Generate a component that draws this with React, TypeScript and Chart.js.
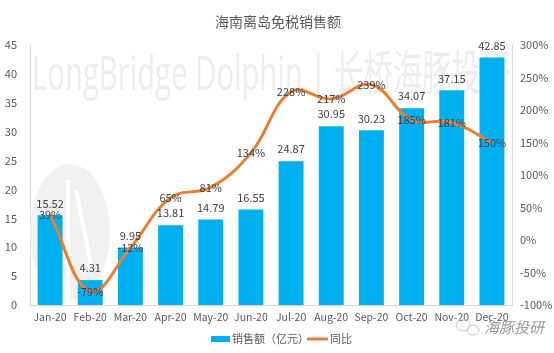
import React, { useEffect, useRef } from "react";
import { Chart, registerables } from "chart.js";

Chart.register(...registerables);

const categories = ["Jan-20", "Feb-20", "Mar-20", "Apr-20", "May-20", "Jun-20", "Jul-20", "Aug-20", "Sep-20", "Oct-20", "Nov-20", "Dec-20"];
const salesValues = [15.52, 4.31, 9.95, 13.81, 14.79, 16.55, 24.87, 30.95, 30.23, 34.07, 37.15, 42.85];
const yoyValues = [39, -79, -12, 65, 81, 134, 228, 217, 239, 185, 181, 150];
const leftTicks = { min: 0, max: 45, step: 5 };
const rightTicks = { min: -100, max: 300, step: 50 };
const titleText = "海南离岛免税销售额";
const salesLabel = "销售额（亿元）";
const yoyLabel = "同比";
const watermarkText = "LongBridge Dolphin | 长桥海豚投研";
const brandText = "海豚投研";

const FONT = "'Noto Sans CJK SC', 'Noto Sans', sans-serif";
const BAR_COLOR = "#00B0F0";
const LINE_COLOR = "#ED7D31";
const TEXT_COLOR = "#595959";
const LABEL_COLOR = "#404040";

const decorPlugin = {
  id: "decor",
  beforeDatasetsDraw(chart: any) {
    const ctx = chart.ctx;
    const area = chart.chartArea;
    ctx.save();
    // faint logo ellipse
    ctx.fillStyle = "#f1f1f1";
    ctx.beginPath();
    ctx.ellipse(area.left + 40, 232, 40, 68, 0, 0, Math.PI * 2);
    ctx.fill();
    ctx.strokeStyle = "#ffffff";
    ctx.lineWidth = 4;
    ctx.beginPath();
    ctx.moveTo(area.left + 38, 180);
    ctx.lineTo(area.left + 38, 300);
    ctx.moveTo(area.left + 46, 190);
    ctx.lineTo(area.left + 62, 270);
    ctx.stroke();
    // watermark text
    ctx.fillStyle = "#ededed";
    ctx.font = `48px 'Open Sans', 'Noto Sans CJK SC', sans-serif`;
    ctx.textBaseline = "alphabetic";
    ctx.textAlign = "left";
    const w = ctx.measureText(watermarkText).width;
    const target = 478;
    ctx.save();
    ctx.translate(area.left + 2, 90);
    ctx.scale(target / w, 1);
    ctx.fillText(watermarkText, 0, 0);
    ctx.restore();
    ctx.restore();
  },
  afterDraw(chart: any) {
    const ctx = chart.ctx;
    ctx.save();
    // title
    ctx.fillStyle = TEXT_COLOR;
    ctx.font = `14px ${FONT}`;
    ctx.textAlign = "center";
    ctx.textBaseline = "middle";
    ctx.fillText(titleText, 278, 22);

    // data labels
    const barMeta = chart.getDatasetMeta(0);
    const lineMeta = chart.getDatasetMeta(1);
    ctx.font = `11px ${FONT}`;
    ctx.fillStyle = LABEL_COLOR;
    barMeta.data.forEach((el: any, i: number) => {
      ctx.fillText(salesValues[i].toFixed(2), el.x, el.y - 12);
    });
    lineMeta.data.forEach((el: any, i: number) => {
      ctx.fillText(`${yoyValues[i]}%`, el.x, el.y);
    });

    // legend
    const ly = 339;
    ctx.fillStyle = BAR_COLOR;
    ctx.fillRect(211, ly - 3, 19, 6);
    ctx.fillStyle = TEXT_COLOR;
    ctx.font = `11px ${FONT}`;
    ctx.textAlign = "left";
    ctx.fillText(salesLabel, 232, ly);
    ctx.strokeStyle = LINE_COLOR;
    ctx.lineWidth = 3;
    ctx.beginPath();
    ctx.moveTo(307, ly);
    ctx.lineTo(328, ly);
    ctx.stroke();
    ctx.fillText(yoyLabel, 330, ly);

    // brand mark
    ctx.strokeStyle = "#c8c8c8";
    ctx.lineWidth = 1;
    ctx.beginPath();
    ctx.ellipse(463, 325, 7, 6, 0, 0, Math.PI * 2);
    ctx.stroke();
    ctx.beginPath();
    ctx.ellipse(473, 330, 6, 5, 0, 0, Math.PI * 2);
    ctx.stroke();
    ctx.fillStyle = "#9a9a9a";
    ctx.font = `italic 15px ${FONT}`;
    ctx.fillText(brandText, 484, 327);
    ctx.restore();
  },
};

export default function App() {
  const ref = useRef<HTMLCanvasElement | null>(null);
  useEffect(() => {
    document.body.style.margin = "0";
    if (!ref.current) return;
    const chart = new Chart(ref.current, {
      type: "bar",
      data: {
        labels: categories,
        datasets: [
          {
            type: "bar",
            label: salesLabel,
            data: salesValues,
            backgroundColor: BAR_COLOR,
            yAxisID: "y",
            order: 1,
            barPercentage: 0.62,
            categoryPercentage: 1,
          },
          {
            type: "line",
            label: yoyLabel,
            data: yoyValues,
            borderColor: LINE_COLOR,
            backgroundColor: LINE_COLOR,
            borderWidth: 3,
            pointRadius: 0,
            tension: 0.4,
            yAxisID: "y1",
            order: 0,
          } as any,
        ],
      },
      options: {
        animation: false,
        responsive: true,
        maintainAspectRatio: false,
        layout: { padding: { top: 45, bottom: 28, left: 0, right: 0 } },
        plugins: {
          legend: { display: false },
          title: { display: false },
          tooltip: { enabled: false },
        },
        scales: {
          x: {
            grid: { display: false, drawTicks: false },
            border: { display: true, color: "#d9d9d9" },
            ticks: { color: TEXT_COLOR, font: { family: FONT, size: 10.5 }, padding: 6, maxRotation: 0, autoSkip: false },
            afterFit(s: any) { s.height = 20; },
          },
          y: {
            position: "left",
            min: leftTicks.min,
            max: leftTicks.max,
            grid: { display: false, drawTicks: false },
            border: { display: true, color: "#d9d9d9" },
            ticks: { stepSize: leftTicks.step, color: TEXT_COLOR, font: { family: FONT, size: 11 }, padding: 13 },
            afterFit(s: any) { s.width = 30; },
          },
          y1: {
            position: "right",
            min: rightTicks.min,
            max: rightTicks.max,
            grid: { display: false, drawTicks: false },
            border: { display: true, color: "#d9d9d9" },
            ticks: { stepSize: rightTicks.step, color: TEXT_COLOR, font: { family: FONT, size: 11 }, padding: 8, callback: (v: any) => `${v}%` },
            afterFit(s: any) { s.width = 42; },
          },
        },
      },
      plugins: [decorPlugin],
    });
    return () => chart.destroy();
  }, []);
  return (
    <div style={{ width: 554, height: 353, position: "relative", background: "#fff" }}>
      <canvas ref={ref} />
    </div>
  );
}
